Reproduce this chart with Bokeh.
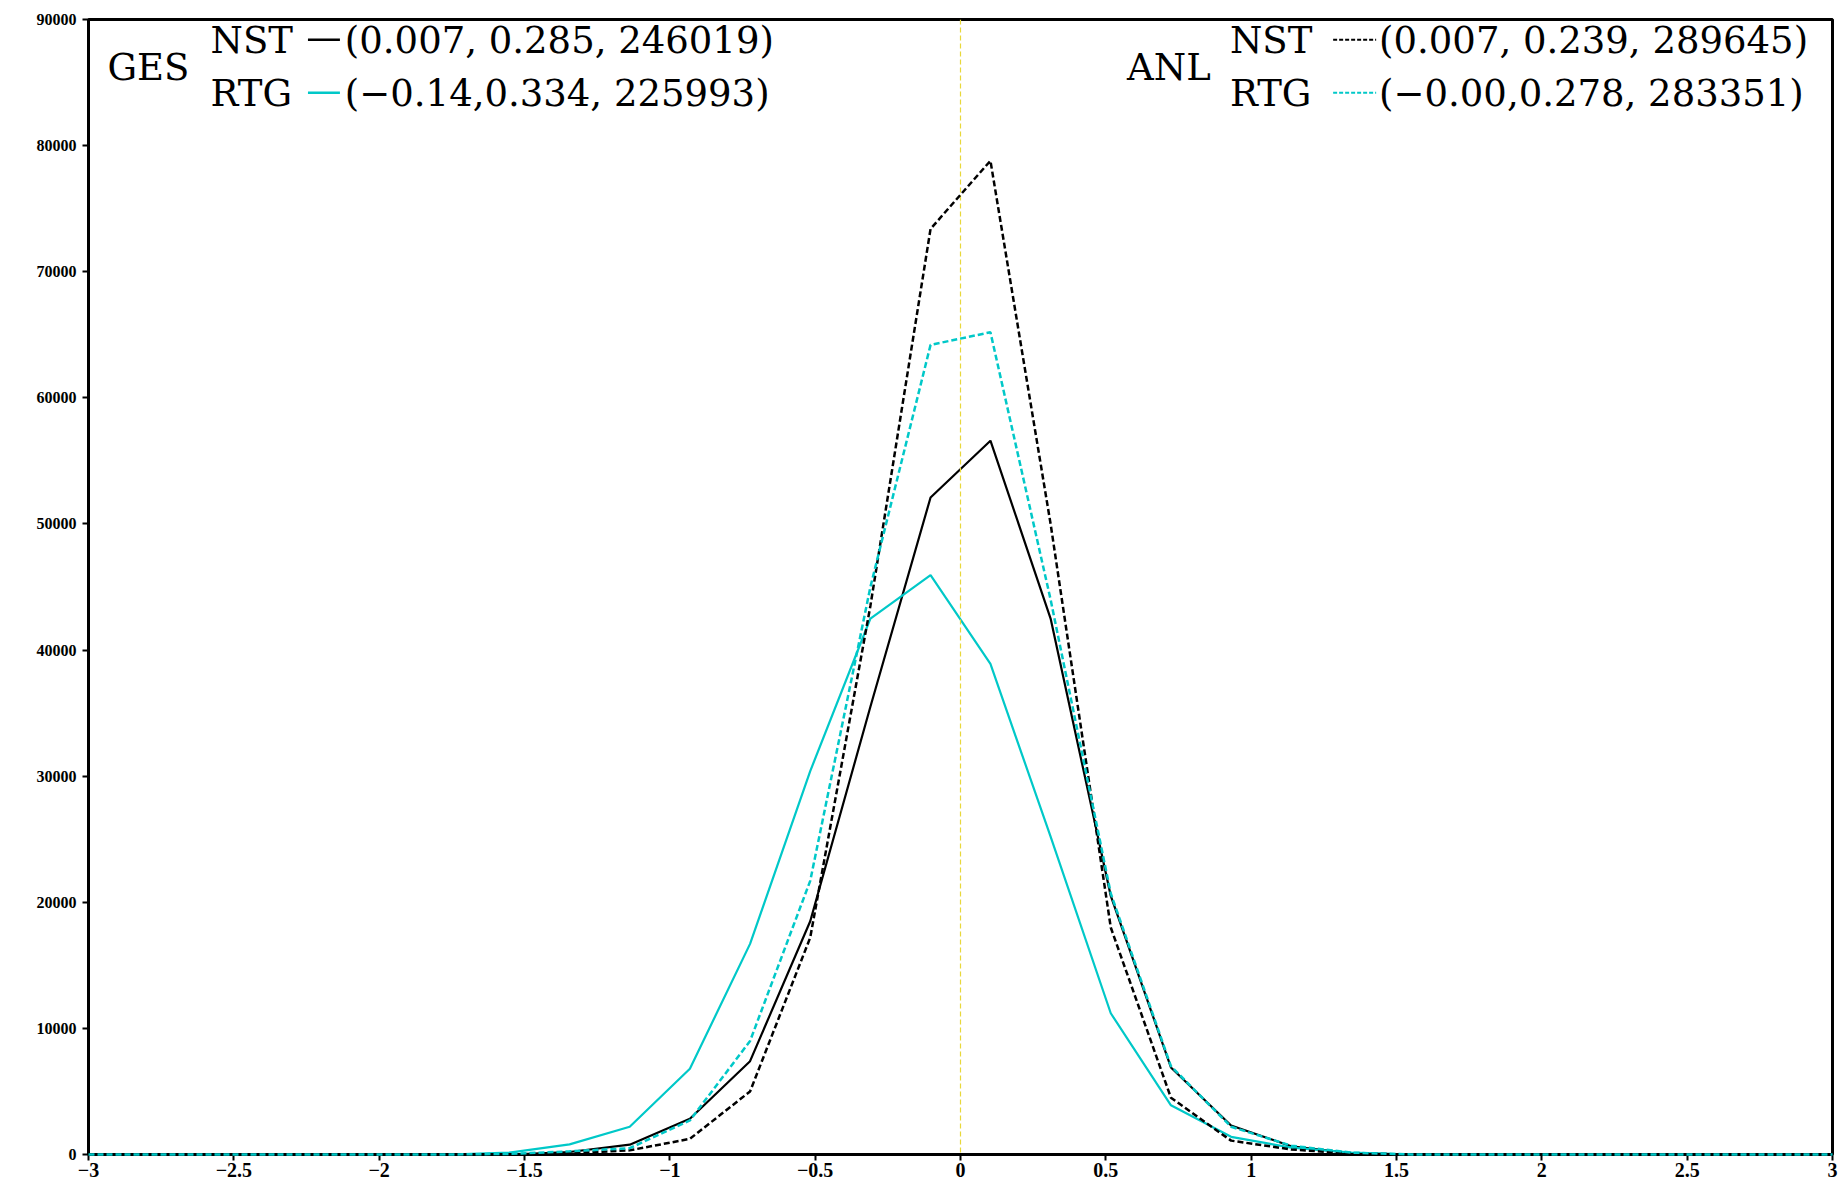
from bokeh.plotting import figure
from bokeh.models import Span, Label, FixedTicker, Range1d
from bokeh.embed import file_html
from bokeh.resources import INLINE

# ---- data (bin centres and counts) ----
x_bins = [-3.0, -2.793, -2.586, -2.379, -2.172, -1.966, -1.759, -1.552, -1.345, -1.138,
          -0.931, -0.724, -0.517, -0.310, -0.103, 0.103, 0.310, 0.517, 0.724, 0.931,
          1.138, 1.345, 1.552, 1.759, 1.966, 2.172, 2.379, 2.586, 2.793, 3.0]

ges_nst = [0, 0, 0, 0, 0, 0, 0, 0, 200, 780,
           2830, 7400, 18500, 35500, 52100, 56600, 42500, 20500, 6900, 2300,
           650, 120, 0, 0, 0, 0, 0, 0, 0, 0]
ges_rtg = [0, 0, 0, 0, 0, 0, 0, 150, 800, 2200,
           6800, 16700, 30400, 42500, 45950, 38900, 25200, 11200, 3900, 1400,
           550, 150, 0, 0, 0, 0, 0, 0, 0, 0]
anl_nst = [0, 0, 0, 0, 0, 0, 0, 0, 100, 330,
           1240, 5000, 17200, 43500, 73400, 78800, 50000, 18000, 4500, 1100,
           400, 80, 0, 0, 0, 0, 0, 0, 0, 0]
anl_rtg = [0, 0, 0, 0, 0, 0, 0, 50, 250, 500,
           2700, 9000, 21700, 45000, 64200, 65200, 44000, 20700, 7000, 2200,
           700, 150, 0, 0, 0, 0, 0, 0, 0, 0]

x_ticks = [-3, -2.5, -2, -1.5, -1, -0.5, 0, 0.5, 1, 1.5, 2, 2.5, 3]
x_tick_labels = ["\u22123", "\u22122.5", "\u22122", "\u22121.5", "\u22121", "\u22120.5",
                 "0", "0.5", "1", "1.5", "2", "2.5", "3"]
y_ticks = [0, 10000, 20000, 30000, 40000, 50000, 60000, 70000, 80000, 90000]

ges_title = "GES"
anl_title = "ANL"
ges_nst_stats = "(0.007, 0.285, 246019)"
ges_rtg_stats = "(\u22120.14,0.334, 225993)"
anl_nst_stats = "(0.007, 0.239, 289645)"
anl_rtg_stats = "(\u22120.00,0.278, 283351)"

CYAN = "#00c8c8"
YELLOW = "#e8d83a"
SERIF = "DejaVu Serif"
TICKFONT = "Liberation Serif"

p = figure(width=1841, height=1185, output_backend="svg", toolbar_location=None,
           x_range=Range1d(-3, 3), y_range=Range1d(0, 90000),
           min_border_left=88, min_border_right=9, min_border_top=19, min_border_bottom=31)
p.background_fill_color = "white"
p.border_fill_color = "white"
p.outline_line_color = "black"
p.outline_line_width = 3
p.xgrid.visible = False
p.ygrid.visible = False

for ax in (p.xaxis[0], p.yaxis[0]):
    ax.axis_line_color = "black"
    ax.axis_line_width = 3
    ax.major_tick_line_color = "black"
    ax.major_tick_line_width = 2
    ax.major_tick_in = 0
    ax.major_tick_out = 6
    ax.minor_tick_line_color = None
    ax.major_label_text_color = "black"
    ax.major_label_text_font = TICKFONT
    ax.major_label_text_font_style = "bold"

p.xaxis.ticker = FixedTicker(ticks=x_ticks)
p.xaxis.major_label_overrides = {t: s for t, s in zip(x_ticks, x_tick_labels)}
p.xaxis.major_label_text_font_size = "20px"
p.xaxis.major_label_standoff = 2
p.yaxis.ticker = FixedTicker(ticks=y_ticks)
p.yaxis.major_label_text_font_size = "16px"
p.yaxis.major_label_standoff = 6

# zero line at x = 0
p.add_layout(Span(location=0, dimension="height", line_color=YELLOW,
                  line_width=1.2, line_dash="5 3"))

r1 = p.line(x_bins, ges_nst, line_color="black", line_width=2.2)
r2 = p.line(x_bins, ges_rtg, line_color=CYAN, line_width=2.2)
r3 = p.line(x_bins, anl_nst, line_color="black", line_width=2.5, line_dash="6 3")
r4 = p.line(x_bins, anl_rtg, line_color=CYAN, line_width=2.5, line_dash="6 3")
r3.level = "overlay"
r4.level = "overlay"

# ---- legend-like annotations ----
FS = "37px"
def lab(x, y, t):
    p.add_layout(Label(x=x, y=y, text=t, text_font=SERIF, text_font_size=FS,
                       text_baseline="middle", text_align="left", text_color="black"))

row1, row2, mid = 88300, 84100, 86200
lab(-2.935, mid, ges_title)
lab(-2.58, row1, "NST")
lab(-2.58, row2, "RTG")
lab(-2.118, row1, ges_nst_stats)
lab(-2.118, row2, ges_rtg_stats)
p.segment(x0=[-2.245], y0=[row1 + 100], x1=[-2.135], y1=[row1 + 100],
          line_color="black", line_width=2.5)
p.segment(x0=[-2.245], y0=[row2 + 100], x1=[-2.135], y1=[row2 + 100],
          line_color=CYAN, line_width=2.5)

lab(0.573, mid, anl_title)
lab(0.927, row1, "NST")
lab(0.927, row2, "RTG")
lab(1.44, row1, anl_nst_stats)
lab(1.44, row2, anl_rtg_stats)
p.segment(x0=[1.282], y0=[row1 + 100], x1=[1.43], y1=[row1 + 100],
          line_color="black", line_width=2, line_dash="4 2")
p.segment(x0=[1.282], y0=[row2 + 100], x1=[1.43], y1=[row2 + 100],
          line_color=CYAN, line_width=2, line_dash="4 2")

open("out.html", "w").write(file_html(p, INLINE))
